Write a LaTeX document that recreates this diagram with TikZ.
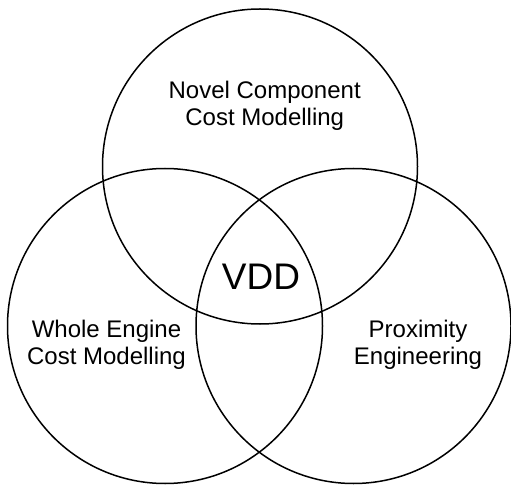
\documentclass[tikz,border=0pt]{standalone}
\usepackage{fontspec}
\setmainfont{Liberation Sans}
\begin{document}
\begin{tikzpicture}[x=1pt,y=-1pt,
  setcircle/.style={circle, draw=black, line width=1.5pt, minimum size=315pt, inner sep=0pt},
  setlabel/.style={align=center, font=\fontsize{24}{26.8}\selectfont, inner sep=0pt},
  corelabel/.style={font=\fontsize{37}{40}\selectfont, inner sep=0pt}]
  \useasboundingbox (0,0) rectangle (511,486);
  % the three overlapping sets
  \node[setcircle] (novel) at (260,166.5) {};
  \node[setcircle] (whole) at (165,326) {};
  \node[setcircle] (prox)  at (353.5,326) {};
  % set names (base anchor sits on the last line)
  \node[setlabel, anchor=base] (novellbl) at (264.7,125.2) {Novel Component\\Cost Modelling};
  \node[setlabel, anchor=base] (wholelbl) at (106.5,364.2) {Whole Engine\\Cost Modelling};
  \node[setlabel, anchor=base] (proxlbl)  at (418,364.2) {Proximity\\Engineering};
  % common intersection
  \node[corelabel, anchor=base] (vdd) at (261,290) {VDD};
\end{tikzpicture}
\end{document}
